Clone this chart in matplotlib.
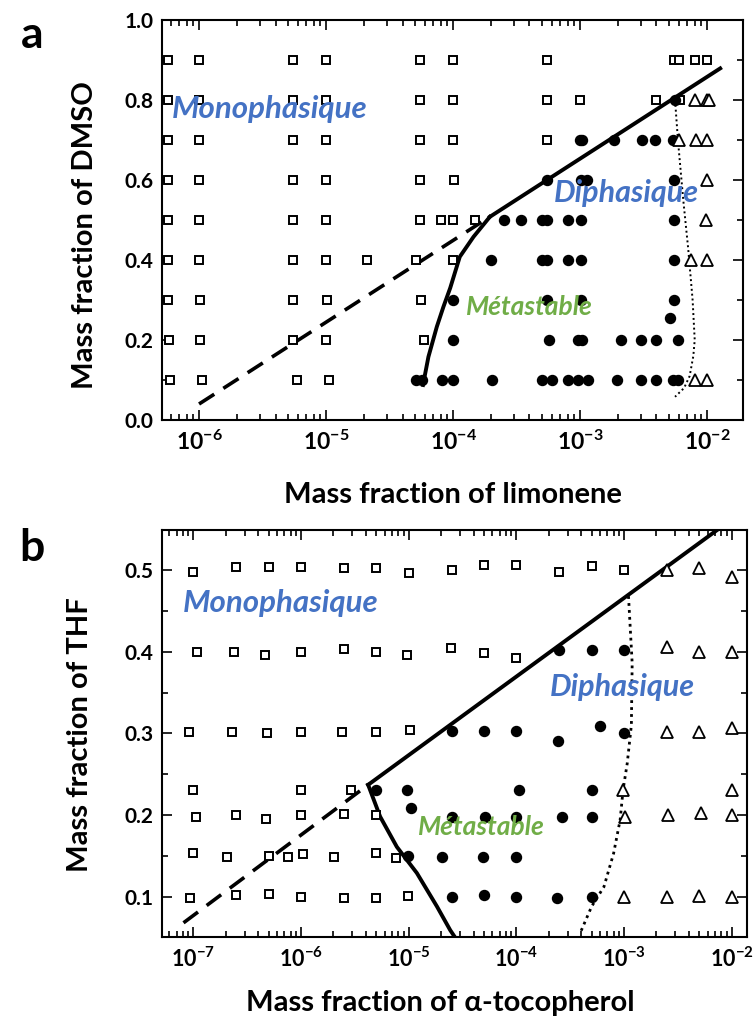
import numpy as np
import matplotlib
matplotlib.use('Agg')
import matplotlib.pyplot as plt
from matplotlib.ticker import FuncFormatter, LogLocator, NullFormatter, MultipleLocator

plt.rcParams['font.family'] = ['Lato', 'DejaVu Sans']
plt.rcParams['mathtext.fontset'] = 'custom'
plt.rcParams['mathtext.rm'] = 'Lato:bold'
plt.rcParams['mathtext.bf'] = 'Lato:bold'
plt.rcParams['mathtext.it'] = 'Lato:bold:italic'

# ---------------- Panel a data (limonene / DMSO) ----------------
a_sq_rows = [0.9, 0.8, 0.7, 0.6, 0.5, 0.4, 0.3, 0.2, 0.1]
a_sq_x = [
    [5.7e-7, 1e-6, 5.5e-6, 1e-5, 5.5e-5, 1e-4, 5.5e-4, 5.5e-3, 6.0e-3, 8.0e-3, 1e-2],
    [5.7e-7, 1e-6, 5.5e-6, 1e-5, 5.5e-5, 1e-4, 5.5e-4, 1e-3, 4.0e-3, 6.1e-3],
    [5.7e-7, 1e-6, 5.5e-6, 1e-5, 5.5e-5, 1e-4, 5.5e-4],
    [5.7e-7, 1e-6, 5.5e-6, 1e-5, 5.5e-5, 1.02e-4],
    [5.7e-7, 1e-6, 5.5e-6, 1e-5, 5.5e-5, 8.0e-5, 1e-4, 1.5e-4],
    [5.7e-7, 1e-6, 5.5e-6, 1e-5, 2.1e-5, 5.1e-5, 1e-4],
    [5.7e-7, 1.02e-6, 5.5e-6, 1.02e-5, 5.6e-5],
    [5.8e-7, 1.02e-6, 5.5e-6, 1e-5, 5.9e-5],
    [5.9e-7, 1.05e-6, 5.9e-6, 1.06e-5],
]
a_ci_rows = [0.8, 0.7, 0.6, 0.5, 0.4, 0.3, 0.254, 0.2, 0.1]
a_ci_x = [
    [5.6e-3],
    [1.0e-3, 1.03e-3, 1.85e-3, 3.1e-3, 3.9e-3, 5.4e-3],
    [5.5e-4, 1.02e-3, 1.14e-3, 5.5e-3],
    [2.5e-4, 3.4e-4, 5.0e-4, 5.5e-4, 8.05e-4, 1.02e-3, 5.5e-3],
    [2.0e-4, 5.0e-4, 5.5e-4, 8.05e-4, 1.02e-3, 5.5e-3],
    [1e-4, 5.5e-4, 1.02e-3, 5.5e-3],
    [5.1e-3],
    [1e-4, 5.7e-4, 9.6e-4, 1.04e-3, 2.1e-3, 3.0e-3, 4.0e-3, 5.9e-3],
    [5.1e-5, 5.7e-5, 8.2e-5, 1e-4, 2.03e-4, 5.0e-4, 6.0e-4, 8.05e-4, 9.6e-4,
     1.16e-3, 1.95e-3, 3.0e-3, 4.0e-3, 5.4e-3, 5.9e-3],
]
a_tr_rows = [0.8, 0.7, 0.6, 0.5, 0.4, 0.1]
a_tr_x = [
    [8.0e-3, 1e-2, 1.03e-2],
    [6.0e-3, 8.2e-3, 1e-2],
    [1e-2],
    [9.8e-3],
    [7.5e-3, 1e-2],
    [8.0e-3, 1e-2],
]
a_dash_x = [1.0e-6, 1.7e-4]
a_dash_y = [0.04, 0.496]
a_solid_x = [1.95e-4, 1.27e-2]
a_solid_y = [0.508, 0.879]
a_curve_x = [5.8e-5, 6.4e-5, 7.45e-5, 8.4e-5, 9.5e-5, 1.13e-4, 1.45e-4, 1.95e-4]
a_curve_y = [0.0875, 0.158, 0.233, 0.283, 0.33, 0.408, 0.458, 0.508]
a_dot_x = [5.6e-3, 5.9e-3, 6.5e-3, 7.1e-3, 7.7e-3, 8.0e-3, 7.8e-3, 7.3e-3, 6.6e-3, 5.6e-3]
a_dot_y = [0.80, 0.70, 0.55, 0.43, 0.30, 0.20, 0.16, 0.11, 0.08, 0.058]

# ---------------- Panel b data (alpha-tocopherol / THF) ----------------
b_sq_x = [1e-7, 2.5e-7, 5e-7, 1e-6, 2.5e-6, 5e-6, 1e-5, 2.5e-5, 5e-5, 1e-4, 2.5e-4, 5e-4, 1e-3,
          1.09e-7, 2.4e-7, 4.6e-7, 1e-6, 2.5e-6, 5e-6, 9.6e-6, 2.45e-5, 5e-5, 1e-4,
          9.2e-8, 2.3e-7, 4.8e-7, 1e-6, 2.4e-6, 5e-6, 1.02e-5,
          1e-7, 1e-6, 2.9e-6,
          1.06e-7, 2.5e-7, 4.7e-7, 1e-6, 2.5e-6, 5e-6,
          1e-7, 2.04e-7, 5e-7, 7.6e-7, 1.04e-6, 2.04e-6, 5e-6, 7.65e-6,
          9.3e-8, 2.5e-7, 5.05e-7, 1e-6, 2.5e-6, 4.96e-6, 9.95e-6]
b_sq_y = [0.497, 0.504, 0.504, 0.504, 0.502, 0.502, 0.496, 0.500, 0.506, 0.506, 0.497, 0.505, 0.500,
          0.400, 0.400, 0.396, 0.400, 0.403, 0.400, 0.396, 0.404, 0.398, 0.392,
          0.302, 0.302, 0.300, 0.302, 0.302, 0.302, 0.304,
          0.231, 0.231, 0.231,
          0.198, 0.200, 0.195, 0.200, 0.201, 0.200,
          0.153, 0.148, 0.150, 0.148, 0.152, 0.148, 0.153, 0.147,
          0.099, 0.102, 0.103, 0.100, 0.099, 0.098, 0.101]
b_ci_x = [2.5e-4, 5e-4, 1e-3,
          2.5e-5, 5e-5, 1e-4, 2.45e-4, 6.0e-4, 1e-3,
          4.96e-6, 9.6e-6, 1.05e-4, 5e-4,
          1.05e-5,
          2.5e-5, 5.1e-5, 1e-4, 2.65e-4, 5e-4,
          9.8e-6, 2.06e-5, 4.9e-5, 1e-4,
          2.5e-5, 5e-5, 1e-4, 2.4e-4, 5e-4]
b_ci_y = [0.402, 0.402, 0.402,
          0.303, 0.303, 0.303, 0.291, 0.309, 0.301,
          0.231, 0.231, 0.231, 0.231,
          0.208,
          0.198, 0.198, 0.198, 0.198, 0.198,
          0.150, 0.148, 0.148, 0.148,
          0.100, 0.102, 0.100, 0.098, 0.100]
b_tr_x = [2.5e-3, 5e-3, 1e-2,
          2.5e-3, 5e-3, 1e-2,
          2.5e-3, 5e-3, 1e-2,
          9.8e-4, 1e-2,
          1.01e-3, 2.56e-3, 5.15e-3, 1e-2,
          1e-3, 2.5e-3, 5e-3, 1e-2]
b_tr_y = [0.500, 0.503, 0.492,
          0.406, 0.400, 0.400,
          0.302, 0.302, 0.306,
          0.231, 0.231,
          0.198, 0.200, 0.202, 0.200,
          0.100, 0.100, 0.101, 0.100]
b_dash_x = [8.1e-8, 4.2e-6]
b_dash_y = [0.068, 0.237]
b_solid_x = [4.2e-6, 7.5e-3]
b_solid_y = [0.237, 0.550]
b_curve_x = [4.2e-6, 5.43e-6, 7.76e-6, 1.19e-5, 1.83e-5, 2.43e-5, 2.7e-5]
b_curve_y = [0.237, 0.198, 0.161, 0.129, 0.088, 0.059, 0.050]
b_dot_x = [1.1e-3, 1.19e-3, 1.17e-3, 1.07e-3, 9.8e-4, 9.2e-4, 8.0e-4, 6.5e-4, 5.0e-4, 3.9e-4]
b_dot_y = [0.468, 0.386, 0.31, 0.263, 0.231, 0.194, 0.153, 0.112, 0.088, 0.055]

BLUE = '#4472C4'
GREEN = '#70AD47'

W, H = 753, 1023
fig = plt.figure(figsize=(W / 100, H / 100), dpi=100)


def axes_px(l, t, r, b):
    return fig.add_axes([l / W, 1 - b / H, (r - l) / W, (b - t) / H])


sq_kw = dict(ls='none', marker='s', ms=6.2, mfc='white', mec='black', mew=1.4, zorder=4)
ci_kw = dict(ls='none', marker='o', ms=7.2, mfc='black', mec='black', zorder=4)
tr_kw = dict(ls='none', marker='^', ms=8.5, mfc='white', mec='black', mew=1.3, zorder=4)

sup = FuncFormatter(lambda v, p: r'$10^{%d}$' % int(round(np.log10(v))))


def style(ax, ymajor, yminor, yfmt, xsize):
    ax.set_xscale('log')
    ax.xaxis.set_major_locator(LogLocator(base=10, numticks=20))
    ax.xaxis.set_minor_locator(LogLocator(base=10, subs=np.arange(2, 10), numticks=40))
    ax.xaxis.set_major_formatter(sup)
    ax.xaxis.set_minor_formatter(NullFormatter())
    ax.yaxis.set_major_locator(MultipleLocator(ymajor))
    ax.yaxis.set_minor_locator(MultipleLocator(yminor))
    ax.yaxis.set_major_formatter(FuncFormatter(lambda v, p: yfmt % v))
    ax.tick_params(which='both', direction='in', top=True, right=True, width=1.2)
    ax.tick_params(which='major', length=7)
    ax.tick_params(which='minor', length=4)
    ax.tick_params(axis='x', which='major', labelsize=xsize, pad=7)
    ax.tick_params(axis='y', which='major', labelsize=15, pad=6)
    for s in ax.spines.values():
        s.set_linewidth(1.5)


def label_text(ax, x, y, s, color, size):
    ax.text(x, y, s, transform=ax.transAxes, color=color, fontsize=size,
            fontweight='bold', fontstyle='italic', ha='center', va='center', zorder=5)


# ---------------- Panel a ----------------
axA = axes_px(161.7, 20, 743, 420)
axA.set_xlim(5.08e-7, 1.92e-2)
axA.set_ylim(0, 1.0)
style(axA, 0.2, 0.1, '%.1f', 16.5)
axA.plot(a_dash_x, a_dash_y, color='black', lw=2.6, ls=(0, (5, 3)), zorder=2)
axA.plot(a_solid_x, a_solid_y, color='black', lw=2.8, zorder=2)
axA.plot(a_curve_x, a_curve_y, color='black', lw=2.8, zorder=2)
axA.plot(a_dot_x, a_dot_y, color='black', lw=1.4, ls=(0, (1, 1.5)), zorder=2)
for yv, xs in zip(a_sq_rows, a_sq_x):
    axA.plot(xs, [yv] * len(xs), **sq_kw)
for yv, xs in zip(a_ci_rows, a_ci_x):
    axA.plot(xs, [yv] * len(xs), **ci_kw)
for yv, xs in zip(a_tr_rows, a_tr_x):
    axA.plot(xs, [yv] * len(xs), **tr_kw)
label_text(axA, 0.186, 0.778, 'Monophasique', BLUE, 22.5)
label_text(axA, 0.80, 0.5675, 'Diphasique', BLUE, 22)
label_text(axA, 0.632, 0.2825, 'Métastable', GREEN, 19)
for lab in axA.get_yticklabels():
    lab.set_fontweight('bold')

# ---------------- Panel b ----------------
axB = axes_px(161.7, 530, 747, 936.7)
axB.set_xlim(5.08e-8, 1.387e-2)
axB.set_ylim(0.051, 0.549)
style(axB, 0.1, 0.05, '%.1f', 15.5)
axB.plot(b_dash_x, b_dash_y, color='black', lw=2.6, ls=(0, (5, 3)), zorder=2)
axB.plot(b_solid_x, b_solid_y, color='black', lw=2.8, zorder=2)
axB.plot(b_curve_x, b_curve_y, color='black', lw=2.8, zorder=2)
axB.plot(b_dot_x, b_dot_y, color='black', lw=2.0, ls=(0, (1, 1.5)), zorder=2)
axB.plot(b_sq_x, b_sq_y, **sq_kw)
axB.plot(b_ci_x, b_ci_y, **ci_kw)
axB.plot(b_tr_x, b_tr_y, **tr_kw)
label_text(axB, 0.2033, 0.821, 'Monophasique', BLUE, 22.5)
label_text(axB, 0.7876, 0.6147, 'Diphasique', BLUE, 22)
label_text(axB, 0.5455, 0.2705, 'Métastable', GREEN, 19)
for lab in axB.get_yticklabels():
    lab.set_fontweight('bold')

# ---------------- Labels ----------------
fig.text(85 / W, 1 - 235 / H, 'Mass fraction of DMSO', rotation=90, ha='center', va='center',
         fontsize=21, fontweight='bold')
fig.text(453 / W, 1 - 495 / H, 'Mass fraction of limonene', ha='center', va='center',
         fontsize=21, fontweight='bold')
fig.text(80 / W, 1 - 735 / H, 'Mass fraction of THF', rotation=90, ha='center', va='center',
         fontsize=21, fontweight='bold')
fig.text(440 / W, 1 - 1003 / H, 'Mass fraction of α-tocopherol', ha='center', va='center',
         fontsize=21, fontweight='bold')
fig.text(32 / W, 1 - 35 / H, 'a', ha='center', va='center', fontsize=32, fontweight='bold')
fig.text(32 / W, 1 - 548 / H, 'b', ha='center', va='center', fontsize=32, fontweight='bold')

fig.savefig('out.png', dpi=100)
